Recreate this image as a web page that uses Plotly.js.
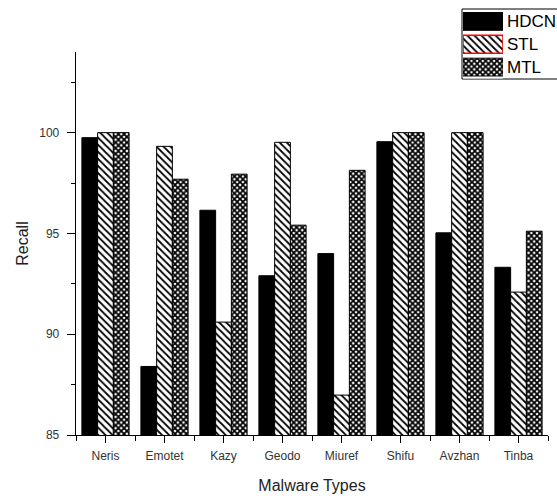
<!DOCTYPE html>
<html>
<head>
<meta charset="utf-8">
<script src="https://cdn.plot.ly/plotly-3.0.1.min.js"></script>
<style>html,body{margin:0;padding:0;background:#fff;}#chart{width:557px;height:499px;}</style>
</head>
<body>
<div id="chart"></div>
<script>
const categories = ["Neris", "Emotet", "Kazy", "Geodo", "Miuref", "Shifu", "Avzhan", "Tinba"];
const seriesNames = ["HDCN", "STL", "MTL"];
const hdcn = [99.75, 88.4, 96.15, 92.9, 94.0, 99.55, 95.03, 93.32];
const stl  = [100, 99.32, 90.6, 99.52, 86.98, 100, 100, 92.09];
const mtl  = [100, 97.69, 97.94, 95.41, 98.13, 100, 100, 95.11];
const yTickVals = [85, 90, 95, 100];

const xs = categories.map((c, i) => i);
const font = "Liberation Sans, Arial, sans-serif";

const W = 557, H = 499, ML = 76, MB = 64;
const pw = W - ML, ph = H - MB;
const px = v => (v - ML) / pw;
const py = v => (ph - v) / ph;

const styles = [
  {color: "black", pattern: {shape: ""}, legLine: "black", legWidth: 1},
  {color: "white", pattern: {shape: "\\", fgcolor: "black", bgcolor: "white", size: 5, solidity: 0.35}, legLine: "red", legWidth: 1.5},
  {color: "white", pattern: {shape: "x", fgcolor: "black", bgcolor: "white", size: 4, solidity: 0.7}, legLine: "black", legWidth: 1}
];

const series = [hdcn, stl, mtl];
const traces = series.map((vals, k) => ({
  type: "bar",
  name: seriesNames[k],
  x: xs,
  y: vals,
  marker: {color: styles[k].color, pattern: styles[k].pattern, line: {color: "black", width: 1}},
  showlegend: false,
  hoverinfo: "skip"
}));

// legend swatches drawn as a small horizontal-bar subplot
seriesNames.forEach((nm, k) => {
  traces.push({
    type: "bar",
    orientation: "h",
    x: [1],
    y: [nm],
    width: 0.78,
    offsetgroup: "legend",
    xaxis: "x2",
    yaxis: "y2",
    marker: {color: styles[k].color, pattern: styles[k].pattern, line: {color: styles[k].legLine, width: styles[k].legWidth}},
    showlegend: false,
    hoverinfo: "skip"
  });
});

const layout = {
  width: W, height: H,
  margin: {l: ML, r: 0, t: 0, b: MB},
  paper_bgcolor: "white",
  plot_bgcolor: "white",
  barmode: "group",
  bargap: 0.2,
  bargroupgap: 0,
  font: {family: font, color: "#222"},
  xaxis: {
    domain: [0, 472 / pw],
    range: [-0.5, 7.5],
    tickmode: "array",
    tickvals: xs,
    ticktext: categories,
    ticks: "outside", ticklen: 7, tickcolor: "black", tickwidth: 1,
    minor: {tickmode: "linear", tick0: -0.5, dtick: 1, ticks: "outside", ticklen: 5, tickcolor: "black", tickwidth: 1, showgrid: false},
    showline: true, linecolor: "black", linewidth: 1.3,
    showgrid: false, zeroline: false,
    tickfont: {size: 12, color: "#333", family: font},
    ticklabelstandoff: 2,
    title: {text: "Malware Types", font: {size: 16, color: "#222", family: font}, standoff: 18}
  },
  yaxis: {
    domain: [0, (ph - 52) / ph],
    range: [85, 104],
    tickmode: "array",
    tickvals: yTickVals,
    ticks: "outside", ticklen: 8, tickcolor: "black", tickwidth: 1,
    minor: {tickmode: "linear", tick0: 85, dtick: 2.5, ticks: "outside", ticklen: 4, tickcolor: "black", tickwidth: 1, showgrid: false},
    showline: true, linecolor: "black", linewidth: 1.3,
    showgrid: false, zeroline: false,
    tickfont: {size: 12, color: "#333", family: font},
    ticklabelstandoff: 5,
    title: {text: "Recall", font: {size: 16, color: "#222", family: font}, standoff: 6}
  },
  xaxis2: {
    domain: [px(463), px(503)],
    range: [0, 1],
    anchor: "y2",
    visible: false, fixedrange: true
  },
  yaxis2: {
    domain: [py(78.5), py(10)],
    range: [2.5, -0.5],
    type: "category",
    anchor: "x2",
    side: "right",
    ticks: "", showline: false, showgrid: false, zeroline: false,
    ticklabelstandoff: 3,
    tickfont: {size: 17, color: "black", family: font},
    fixedrange: true
  },
  shapes: [
    {type: "rect", xref: "paper", yref: "paper", x0: px(462), x1: px(562), y0: py(79), y1: py(9),
     line: {color: "black", width: 1}, fillcolor: "rgba(0,0,0,0)", layer: "below"}
  ]
};

Plotly.newPlot("chart", traces, layout, {staticPlot: true, displayModeBar: false});
</script>
</body>
</html>
